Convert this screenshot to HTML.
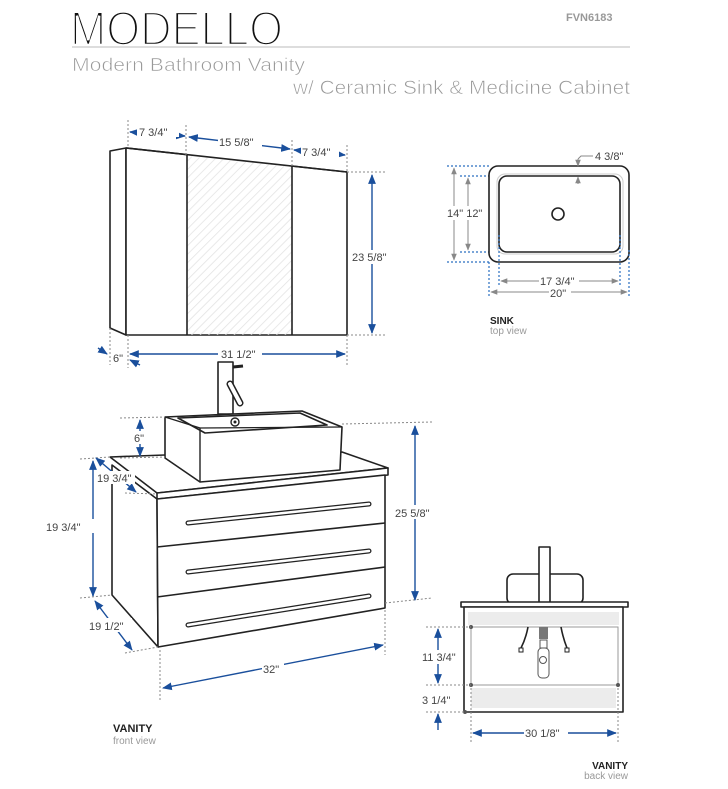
<!DOCTYPE html>
<html><head><meta charset="utf-8"><style>
html,body{margin:0;padding:0;background:#fff;}
svg{display:block;}
text{font-family:"Liberation Sans",sans-serif;}
.d{font-size:11px;fill:#444;}
.k{stroke:#222;stroke-width:1.6;fill:#fff;stroke-linejoin:round;}
.b{stroke:#1a4f9c;stroke-width:1.4;fill:none;}
.x{stroke:#888;stroke-width:1;stroke-dasharray:2,2;fill:none;}
.xb{stroke:#2a6fc0;stroke-width:1.2;stroke-dasharray:2,2;fill:none;}
</style></head><body>
<svg width="728" height="789" viewBox="0 0 728 789" xmlns="http://www.w3.org/2000/svg">
<defs>
<marker id="a" viewBox="0 0 10 10" refX="9" refY="5" markerWidth="7" markerHeight="7" orient="auto-start-reverse"><path d="M0,1 L10,5 L0,9z" fill="#1a4f9c"/></marker>
<marker id="g" viewBox="0 0 10 10" refX="9" refY="5" markerWidth="7" markerHeight="7" orient="auto-start-reverse"><path d="M0,1 L10,5 L0,9z" fill="#888"/></marker>
<pattern id="h" width="6" height="6" patternUnits="userSpaceOnUse" patternTransform="rotate(45)"><line x1="0" y1="0" x2="0" y2="6" stroke="#e2e2e2" stroke-width="1.5"/></pattern>
</defs>

<!-- header -->
<text x="70" y="45" font-size="48" fill="#111" stroke="#fff" stroke-width="2.6" textLength="213" lengthAdjust="spacingAndGlyphs">MODELLO</text>
<text x="566" y="21" font-size="11" font-weight="bold" fill="#999">FVN6183</text>
<line x1="72" y1="47" x2="630" y2="47" stroke="#bbb" stroke-width="1"/>
<text x="72" y="71" font-size="18" fill="#999" stroke="#fff" stroke-width="0.6" textLength="233" lengthAdjust="spacingAndGlyphs">Modern Bathroom Vanity</text>
<text x="293" y="94" font-size="19" fill="#999" stroke="#fff" stroke-width="0.6" textLength="337" lengthAdjust="spacingAndGlyphs">w/ Ceramic Sink &amp; Medicine Cabinet</text>

<!-- medicine cabinet -->
<polygon class="k" points="110,151 126,148 126,335 110,328"/>
<polygon class="k" points="126,148 347,172 347,335 126,335"/>
<rect x="187" y="156" width="105" height="179" fill="url(#h)"/>
<polygon points="187,156 292,167 292,156 187,148" fill="#fff"/>
<line x1="126" y1="148" x2="347" y2="172" stroke="#222" stroke-width="1.6"/>
<line x1="187" y1="155" x2="187" y2="335" stroke="#222" stroke-width="1.6"/>
<line x1="292" y1="166" x2="292" y2="335" stroke="#222" stroke-width="1.6"/>
<line class="x" x1="128" y1="120" x2="128" y2="148"/>
<line class="x" x1="186" y1="125" x2="186" y2="155"/>
<line class="x" x1="292" y1="140" x2="292" y2="166"/>
<line class="x" x1="347" y1="145" x2="347" y2="172"/>
<line class="x" x1="347" y1="172" x2="385" y2="172"/>
<line class="x" x1="347" y1="335" x2="385" y2="335"/>
<line class="x" x1="110" y1="328" x2="110" y2="365"/>
<line class="x" x1="128" y1="335" x2="128" y2="368"/>
<line class="x" x1="347" y1="335" x2="347" y2="365"/>
<line class="b" x1="130" y1="132" x2="185" y2="136" marker-start="url(#a)" marker-end="url(#a)"/>
<rect x="137" y="124" width="42" height="13" fill="#fff"/>
<text class="d" x="139" y="136">7 3/4"</text>
<line class="b" x1="189" y1="137" x2="290" y2="149" marker-start="url(#a)" marker-end="url(#a)"/>
<rect x="218" y="135" width="44" height="13" fill="#fff"/>
<text class="d" x="219" y="146">15 5/8"</text>
<line class="b" x1="294" y1="150" x2="345" y2="155" marker-start="url(#a)" marker-end="url(#a)"/>
<rect x="301" y="145" width="38" height="13" fill="#fff"/>
<text class="d" x="302" y="156">7 3/4"</text>
<line class="b" x1="372" y1="175" x2="372" y2="333" marker-start="url(#a)" marker-end="url(#a)"/>
<rect x="351" y="250" width="46" height="14" fill="#fff"/>
<text class="d" x="352" y="261">23 5/8"</text>
<line class="b" x1="130" y1="354" x2="345" y2="354" marker-start="url(#a)" marker-end="url(#a)"/>
<rect x="218" y="347" width="44" height="13" fill="#fff"/>
<text class="d" x="221" y="358">31 1/2"</text>
<line class="b" x1="98" y1="348" x2="107" y2="354" marker-end="url(#a)"/>
<line class="b" x1="140" y1="365" x2="130" y2="360" marker-end="url(#a)"/>
<text class="d" x="113" y="362">6"</text>

<!-- vanity front -->
<rect x="218" y="362" width="15" height="52" class="k" stroke-width="1.3"/>
<line x1="233" y1="367" x2="243" y2="366" stroke="#222" stroke-width="3"/>
<line x1="230" y1="384" x2="240" y2="403" stroke="#222" stroke-width="7" stroke-linecap="round"/>
<line x1="230" y1="384" x2="240" y2="403" stroke="#fff" stroke-width="4" stroke-linecap="round"/>
<polygon class="k" points="110,457 165,455 342,452 388,468 157,493"/>
<polygon class="k" points="157,493 388,468 388,475 157,499"/>
<polygon class="k" points="165,417 302,411 342,427 340,470 200,482 165,458"/>
<polygon class="k" points="178,418 300,413 327,425 205,433"/>
<line x1="200" y1="428" x2="200" y2="482" stroke="#222" stroke-width="1.4"/>
<line x1="165" y1="417" x2="200" y2="428" stroke="#222" stroke-width="1.4"/>
<line x1="200" y1="428" x2="342" y2="427" stroke="#222" stroke-width="1.2"/>
<circle cx="235" cy="422" r="4" fill="#fff" stroke="#222" stroke-width="1.4"/>
<circle cx="235" cy="422" r="1.5" fill="#222"/>
<polygon class="k" points="112,465 157,499 158,647 112,595"/>
<polygon class="k" points="157,499 385,475 385,608 158,647"/>
<line x1="157" y1="547" x2="385" y2="523" stroke="#222" stroke-width="1.6"/>
<line x1="157" y1="597" x2="385" y2="567" stroke="#222" stroke-width="1.6"/>
<g stroke-linecap="round">
<line x1="188" y1="523" x2="369" y2="504" stroke="#222" stroke-width="5"/>
<line x1="188" y1="523" x2="369" y2="504" stroke="#fff" stroke-width="2.5"/>
<line x1="188" y1="572" x2="369" y2="551" stroke="#222" stroke-width="5"/>
<line x1="188" y1="572" x2="369" y2="551" stroke="#fff" stroke-width="2.5"/>
<line x1="188" y1="625" x2="369" y2="596" stroke="#222" stroke-width="5"/>
<line x1="188" y1="625" x2="369" y2="596" stroke="#fff" stroke-width="2.5"/>
</g>
<line class="x" x1="120" y1="418" x2="165" y2="417"/>
<line class="x" x1="120" y1="458" x2="165" y2="457"/>
<line class="b" x1="140" y1="420" x2="140" y2="456" marker-start="url(#a)" marker-end="url(#a)"/>
<rect x="132" y="431" width="16" height="13" fill="#fff"/>
<text class="d" x="134" y="442">6"</text>
<line class="x" x1="342" y1="424" x2="432" y2="422"/>
<line class="x" x1="385" y1="603" x2="432" y2="598"/>
<line class="b" x1="415" y1="426" x2="415" y2="600" marker-start="url(#a)" marker-end="url(#a)"/>
<rect x="394" y="505" width="46" height="14" fill="#fff"/>
<text class="d" x="395" y="517">25 5/8"</text>
<line class="x" x1="80" y1="459" x2="110" y2="457"/>
<line class="x" x1="80" y1="598" x2="112" y2="595"/>
<line class="x" x1="125" y1="493" x2="157" y2="494"/>
<line class="b" x1="93" y1="461" x2="93" y2="596" marker-start="url(#a)" marker-end="url(#a)"/>
<rect x="45" y="519" width="66" height="14" fill="#fff"/>
<text class="d" x="46" y="531">19 3/4"</text>
<line class="b" x1="96" y1="458" x2="136" y2="492" marker-start="url(#a)" marker-end="url(#a)"/>
<rect x="97" y="471" width="38" height="13" fill="#fff"/>
<text class="d" x="97" y="482">19 3/4"</text>
<line class="x" x1="125" y1="653" x2="158" y2="647"/>
<line class="b" x1="95" y1="601" x2="132" y2="650" marker-start="url(#a)" marker-end="url(#a)"/>
<rect x="88" y="618" width="44" height="14" fill="#fff"/>
<text class="d" x="89" y="630">19 1/2"</text>
<line class="x" x1="160" y1="650" x2="160" y2="700"/>
<line class="x" x1="385" y1="610" x2="385" y2="655"/>
<line class="b" x1="163" y1="688" x2="383" y2="645" marker-start="url(#a)" marker-end="url(#a)"/>
<rect x="262" y="661" width="22" height="14" fill="#fff"/>
<text class="d" x="263" y="673">32"</text>
<text x="113" y="732" font-size="11" font-weight="bold" fill="#222">VANITY</text>
<text x="113" y="744" font-size="10" fill="#999">front view</text>

<!-- sink top view -->
<line class="xb" x1="447" y1="166" x2="489" y2="166"/>
<line class="xb" x1="447" y1="262" x2="489" y2="262"/>
<line class="xb" x1="460" y1="176" x2="500" y2="176"/>
<line class="xb" x1="460" y1="252" x2="500" y2="252"/>
<rect x="489" y="166" width="140" height="96" rx="9" fill="#fff" stroke="#222" stroke-width="1.6"/>
<rect x="497" y="174" width="126" height="80" rx="8" fill="none" stroke="#ccc" stroke-width="1"/>
<rect x="499" y="176" width="121" height="76" rx="8" fill="#fff" stroke="#222" stroke-width="1.6"/>
<circle cx="558" cy="214" r="6" fill="#fff" stroke="#222" stroke-width="1.6"/>
<line x1="454" y1="168" x2="454" y2="260" stroke="#888" stroke-width="1" marker-start="url(#g)" marker-end="url(#g)"/>
<line x1="468" y1="178" x2="468" y2="250" stroke="#888" stroke-width="1" marker-start="url(#g)" marker-end="url(#g)"/>
<rect x="446" y="206" width="32" height="14" fill="#fff"/>
<text class="d" x="447" y="217">14" 12"</text>
<line x1="578" y1="159" x2="578" y2="166" stroke="#888" stroke-width="1" marker-end="url(#g)"/>
<line x1="578" y1="184" x2="578" y2="177" stroke="#888" stroke-width="1" marker-end="url(#g)"/>
<polyline points="578,159 581,156 593,156" fill="none" stroke="#888" stroke-width="1"/>
<text class="d" x="595" y="160">4 3/8"</text>
<line class="xb" x1="489" y1="262" x2="489" y2="297"/>
<line class="xb" x1="499" y1="235" x2="499" y2="287"/>
<line class="xb" x1="620" y1="235" x2="620" y2="287"/>
<line class="xb" x1="629" y1="250" x2="629" y2="297"/>
<line x1="501" y1="281" x2="618" y2="281" stroke="#888" stroke-width="1" marker-start="url(#g)" marker-end="url(#g)"/>
<rect x="539" y="274" width="40" height="13" fill="#fff"/>
<text class="d" x="540" y="285">17 3/4"</text>
<line x1="491" y1="292" x2="627" y2="292" stroke="#888" stroke-width="1" marker-start="url(#g)" marker-end="url(#g)"/>
<rect x="549" y="286" width="22" height="12" fill="#fff"/>
<text class="d" x="550" y="297">20"</text>
<text x="490" y="324" font-size="10" font-weight="bold" fill="#222">SINK</text>
<text x="490" y="334" font-size="10" fill="#999">top view</text>

<!-- vanity back -->
<rect x="507" y="574" width="76" height="30" rx="6" class="k"/>
<rect x="539" y="547" width="11" height="57" class="k" stroke-width="1.3"/>
<rect x="461" y="602" width="167" height="5" class="k" stroke-width="1.3"/>
<rect x="464" y="607" width="159" height="105" class="k"/>
<rect x="468" y="612" width="151" height="13" fill="#ececec"/>
<rect x="471" y="627" width="147" height="58" fill="none" stroke="#999" stroke-width="1"/>
<rect x="471" y="688" width="145" height="20" fill="#ececec"/>
<circle cx="471" cy="627" r="2" fill="#555"/><circle cx="471" cy="685" r="2" fill="#555"/>
<circle cx="618" cy="685" r="2" fill="#555"/><circle cx="465" cy="712" r="2" fill="#555"/>
<rect x="539" y="627" width="9" height="12" fill="#777"/>
<rect x="540" y="640" width="7" height="8" fill="#fff" stroke="#555"/>
<rect x="538" y="648" width="11" height="30" rx="4" fill="#fff" stroke="#555"/>
<circle cx="543" cy="660" r="3.5" fill="none" stroke="#555"/>
<path d="M528,627 Q526,638 521,648" fill="none" stroke="#222" stroke-width="1.6"/>
<path d="M561,627 Q563,638 567,648" fill="none" stroke="#222" stroke-width="1.6"/>
<rect x="519" y="648" width="4" height="4" fill="#fff" stroke="#222"/>
<rect x="565" y="648" width="4" height="4" fill="#fff" stroke="#222"/>
<line class="x" x1="426" y1="627" x2="471" y2="627"/>
<line class="x" x1="426" y1="685" x2="471" y2="685"/>
<line class="x" x1="426" y1="712" x2="464" y2="712"/>
<line class="b" x1="438" y1="629" x2="438" y2="683" marker-start="url(#a)" marker-end="url(#a)"/>
<rect x="420" y="650" width="36" height="14" fill="#fff"/>
<text class="d" x="422" y="661">11 3/4"</text>
<text class="d" x="422" y="704">3 1/4"</text>
<line class="b" x1="438" y1="730" x2="438" y2="714" marker-end="url(#a)"/>
<line class="x" x1="471" y1="688" x2="471" y2="742"/>
<line class="x" x1="618" y1="688" x2="618" y2="742"/>
<line class="b" x1="473" y1="733" x2="616" y2="733" marker-start="url(#a)" marker-end="url(#a)"/>
<rect x="524" y="726" width="44" height="13" fill="#fff"/>
<text class="d" x="525" y="737">30 1/8"</text>
<text x="628" y="769" font-size="10" font-weight="bold" fill="#222" text-anchor="end">VANITY</text>
<text x="628" y="779" font-size="10" fill="#999" text-anchor="end">back view</text>
</svg>
</body></html>
